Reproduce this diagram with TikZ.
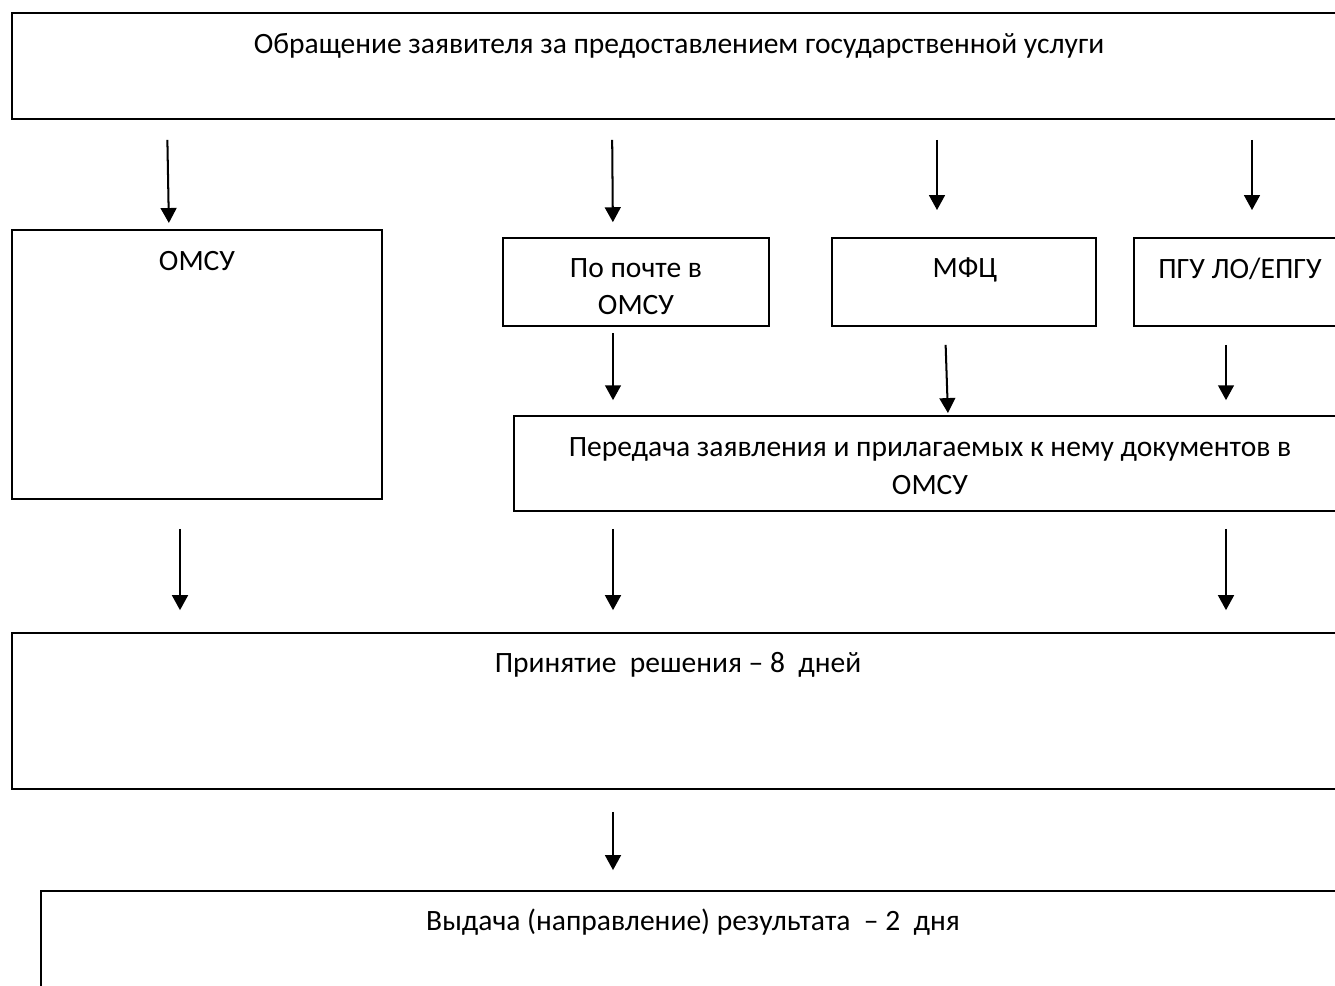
\documentclass[tikz,border=0pt]{standalone}
\usepackage{fontspec}
\setmainfont{Carlito}
\usetikzlibrary{arrows.meta,positioning}

\tikzset{
  blk/.style={draw, line width=1.1pt, rectangle, anchor=north west, inner sep=0pt, outer sep=0pt},
  txt/.style={anchor=base, inner sep=0pt, align=center, font=\fontsize{16.8}{21.5}\selectfont},
  arr/.style={-{Triangle[width=9pt,length=8.5pt]}, line width=1.15pt},
}

\begin{document}
\begin{tikzpicture}[x=0.02cm, y=-0.02cm]
        \useasboundingbox (0,0) rectangle (1335,986);
        \clip (0,0) rectangle (1335,986);
        % boxes
        \node[blk, minimum width=26.66cm, minimum height=2.12cm] (obr) at (12,13) {};
        \node[blk, minimum width=7.4cm, minimum height=5.38cm] (omsu) at (12,230) {};
        \node[blk, minimum width=5.32cm, minimum height=1.76cm] (pochta) at (503,238) {};
        \node[blk, minimum width=5.28cm, minimum height=1.76cm] (mfc) at (832,238) {};
        \node[blk, minimum width=4.22cm, minimum height=1.76cm] (pgu) at (1134,238) {};
        \node[blk, minimum width=16.62cm, minimum height=1.9cm] (pered) at (514,416) {};
        \node[blk, minimum width=26.66cm, minimum height=3.12cm] (prin) at (12,633) {};
        \node[blk, minimum width=26.08cm, minimum height=3cm] (vyd) at (41,891) {};
        % texts
        \node[txt] (obrtxt) at (679,54) {Обращение заявителя за предоставлением государственной услуги};
        \node[txt] (omsutxt) at (197,271) {ОМСУ};
        \node[txt] (pochtatxt) at (636,315) {По почте в\\ОМСУ};
        \node[txt] (mfctxt) at (965,278) {МФЦ};
        \node[txt] (pgutxt) at (1240,279) {ПГУ ЛО/ЕПГУ};
        \node[txt] (peredtxt) at (930,494) {Передача заявления и прилагаемых к нему документов в\\ОМСУ};
        \node[txt] (printxt) at (678,672) {Принятие\ \ решения – 8\ \ дней};
        \node[txt] (vydtxt) at (693,930) {Выдача (направление) результата\ \ – 2\ \ дня};
        % arrows
        \foreach \a/\b/\xa/\xb/\sa/\sb in {obr/omsu/167/169/11.9/4, obr/pochta/612/613/11.9/9,
            obr/mfc/937/937/11.9/15.9, obr/pgu/1252/1252/11.9/15.9,
            pochta/pered/613/613/4/9, mfc/pered/945/948/10.8/1.7, pgu/pered/1226/1226/10.8/9,
            omsu/prin/180/180/17/13, pered/prin/613/613/10.2/13, pered/prin/1226/1226/10.2/13,
            prin/vyd/613/613/13/11.9}
        \draw[arr, shorten <=\sa pt, shorten >=\sb pt] (\a.south -| \xa,0) -- (\b.north -| \xb,0);
    \end{tikzpicture}
\end{document}
